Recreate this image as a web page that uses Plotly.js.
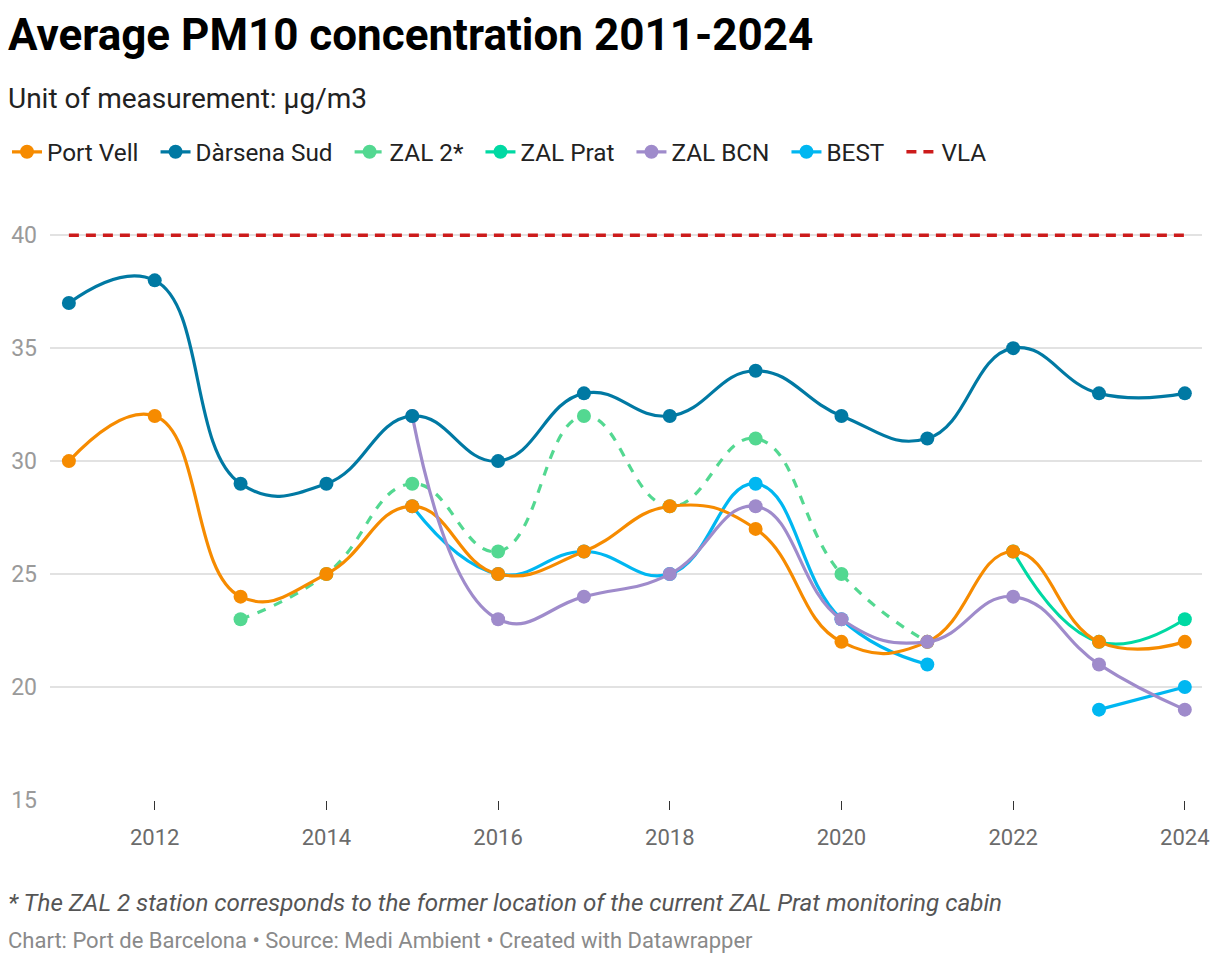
<!DOCTYPE html>
<html>
<head>
<meta charset="utf-8">
<script src="https://cdn.plot.ly/plotly-3.0.1.min.js"></script>
<style>
html,body{margin:0;padding:0;background:#fff;}
#chart{width:1220px;height:964px;}
</style>
</head>
<body>
<div id="chart"></div>
<script>
var years = [2011,2012,2013,2014,2015,2016,2017,2018,2019,2020,2021,2022,2023,2024];
var portVell   = [30,32,24,25,28,25,26,28,27,22,22,26,22,22];
var darsenaSud = [37,38,29,29,32,30,33,32,34,32,31,35,33,33];
var zal2       = [null,null,23,25,29,26,32,28,31,25,22,null,null,null];
var zalPrat    = [null,null,null,null,null,null,null,null,null,null,null,26,22,23];
var zalBcn     = [null,null,null,null,32,23,24,25,28,23,22,24,21,19];
var best       = [null,null,null,null,28,25,26,25,29,23,21,null,19,20];
var vla        = [40,40,40,40,40,40,40,40,40,40,40,40,40,40];
var xTicks = [2012,2014,2016,2018,2020,2022,2024];
var yTicks = [15,20,25,30,35,40];

var PAD = '&nbsp;&nbsp;';
function series(name, y, color, rank, dash, mode){
  return {
    type:'scatter', mode: mode || 'lines+markers', name:name + (rank < 7 ? PAD : ''), x:years, y:y,
    line:{color:color, width:3.2, shape:'spline', smoothing:1.3, dash: dash || 'solid'},
    marker:{color:color, size:14},
    connectgaps:false, legendrank:rank, hoverinfo:'x+y+name'
  };
}

var data = [
  series('VLA', vla, '#cc1b1b', 7, '10px,7px', 'lines'),
  series('BEST', best, '#00b7f1', 6),
  series('ZAL Prat', zalPrat, '#00d9a3', 4),
  series('ZAL 2*', zal2, '#53d891', 3, '9px,9px'),
  series('Port Vell', portVell, '#f68b00', 1),
  series('ZAL BCN', zalBcn, '#9f8bcb', 5),
  series('Dàrsena Sud', darsenaSud, '#0079a3', 2)
];
data[0].line.width = 3.5;
data[0].line.shape = 'linear';

var layout = {
  width:1220, height:964,
  paper_bgcolor:'#fff', plot_bgcolor:'#fff',
  font:{family:'Roboto, sans-serif', color:'#333'},
  margin:{l:50, r:18, t:190, b:164, autoexpand:false},
  title:{text:'Average PM10 concentration 2011-2024', font:{family:'Roboto', size:44, weight:700, color:'#000'},
         xref:'container', yref:'container', x:8/1220, xanchor:'left', y:1-35/964, yanchor:'middle'},
  xaxis:{range:[2010.78,2024.2], tickvals:xTicks, ticktext:xTicks.map(String), showgrid:false, zeroline:false,
         ticks:'outside', ticklen:9, tickcolor:'#333', tickwidth:1, ticklabelstandoff:9,
         tickfont:{size:22, color:'#6b6b6b'}, showline:false, fixedrange:true},
  yaxis:{range:[15,42], tickvals:yTicks, ticktext:yTicks.map(String), showgrid:true, gridcolor:'#e2e2e2', gridwidth:1.5,
         zeroline:false, ticks:'', tickfont:{size:23, color:'#9a9a9a'}, ticklabelstandoff:12, fixedrange:true},
  showlegend:true,
  legend:{orientation:'h', xref:'container', yref:'container', x:7/1220, xanchor:'left', y:1-152/964, yanchor:'middle',
          font:{size:24.3, color:'#222'}, itemwidth:30, traceorder:'normal', bgcolor:'rgba(0,0,0,0)'},
  annotations:[
    {text:'Unit of measurement: µg/m3', xref:'paper', yref:'paper', x:-44/1150, y:1+(190-98)/610, xanchor:'left', yanchor:'middle',
     showarrow:false, font:{size:28, color:'#222'}},
    {text:'<i>* The ZAL 2 station corresponds to the former location of the current ZAL Prat monitoring cabin</i>', xref:'paper', yref:'paper',
     x:-44/1150, y:-(903-800)/610, xanchor:'left', yanchor:'middle', showarrow:false, font:{size:24.2, color:'#555'}},
    {text:'Chart: Port de Barcelona • Source: Medi Ambient • Created with Datawrapper', xref:'paper', yref:'paper',
     x:-44/1150, y:-(940-800)/610, xanchor:'left', yanchor:'middle', showarrow:false, font:{size:22, color:'#8a8a8a'}}
  ]
};

Plotly.newPlot('chart', data, layout, {displayModeBar:false, staticPlot:true});
</script>
</body>
</html>
